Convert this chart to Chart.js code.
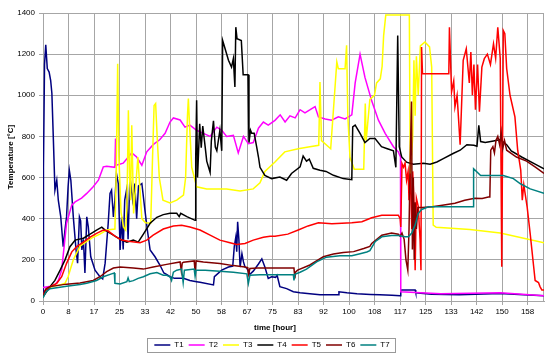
<!DOCTYPE html>
<html>
<head>
<meta charset="utf-8">
<script src="https://cdn.jsdelivr.net/npm/chart.js@4.4.1/dist/chart.umd.min.js"></script>
<style>
  html, body { margin: 0; padding: 0; background: #fff; }
  #wrap { position: relative; width: 550px; height: 359px; }
</style>
</head>
<body>
<div id="wrap"><canvas id="tempChart" width="550" height="359"></canvas></div>
<script>
// Temperature logs T1..T7 over time (hours)

const seriesNames = ['T1', 'T2', 'T3', 'T4', 'T5', 'T6', 'T7'];
const seriesColors = ['#000080', '#ff00ff', '#ffff00', '#000000', '#ff0000', '#800000', '#008080'];
const xTickLabels = ['0', '8', '17', '25', '33', '42', '50', '58', '67', '75',
                     '83', '92', '100', '108', '117', '125', '133', '142', '150', '158'];
const X_STEP = 25 / 3;   // one tick every 8.33 h
const X_MAX = 163.7;
const Y_MAX = 1400;
const Y_STEP = 200;

const t1Time = [0, 0.15, 0.5, 0.9, 1.4, 2, 2.5, 2.9, 3.4, 3.9,
  4.5, 5, 5.8, 6.6, 7.3, 7.7, 8.2, 8.6, 9.1, 9.9,
  10.8, 11.3, 11.9, 12.3, 12.7, 13.2, 13.7, 14.3, 14.8, 15.6,
  17, 18.6, 19.5, 20.3, 21.3, 21.9, 22.4, 23, 23.5, 24,
  24.6, 25.2, 25.7, 26.2, 26.7, 27.3, 27.8, 28.4, 29.3, 30,
  30.6, 31.2, 32.3, 33.3, 34.1, 35, 36.6, 38.2, 39.5, 40.5,
  41.5, 43, 45.9, 48, 50.2, 51.3, 55.7, 56, 58.4, 60.6,
  62, 62.5, 63, 63.3, 63.6, 64, 64.4, 65, 65.5, 66,
  66.6, 67.6, 68.7, 70.4, 71.5, 72.5, 73.6, 74.7, 76, 76.5,
  77.4, 79.6, 81.8, 84, 87.2, 90.5, 96.5, 96.7, 99.3, 102.6,
  107, 110, 114, 116.7, 116.9, 121.6, 121.8, 127, 136, 149.4,
  157, 163.7];
const t1Temp = [30, 650, 1150, 1246, 1130, 1113, 1073, 1010, 780, 539,
  587, 490, 409, 264, 360, 410, 555, 636, 587, 409,
  248, 184, 409, 390, 248, 300, 136, 409, 360, 215,
  150, 118, 108, 184, 377, 523, 539, 409, 490, 620,
  571, 248, 409, 250, 490, 539, 300, 603, 490, 571,
  400, 560, 571, 442, 345, 248, 215, 175, 136, 128,
  118, 110, 110, 100, 94, 91, 78, 118, 150, 165,
  170, 264, 310, 240, 385, 300, 165, 230, 190, 165,
  160, 130, 145, 180, 205, 165, 110, 118, 115, 125,
  70, 60, 45, 40, 35, 30, 30, 45, 40, 35,
  32, 30, 28, 25, 53, 53, 40, 33, 30, 37,
  30, 25];

const t2Time = [0, 2, 3.9, 5, 6.1, 7.7, 9.4, 10.5, 12.6, 14.3,
  16.4, 18.1, 19.7, 20.8, 23.5, 23.7, 23.9, 26.2, 27.9, 29,
  30.6, 32.3, 33.9, 36, 38.2, 39.9, 41.5, 42.6, 44.8, 46.4,
  48, 50.2, 52.4, 54.6, 56.8, 58.4, 60, 62.2, 63.8, 65.5,
  67.1, 68.7, 70.4, 72, 73.6, 75.8, 77.5, 79.1, 80.7, 82.4,
  84, 85.6, 87.3, 88.9, 90, 92.2, 94.3, 96.5, 98.7, 100.9,
  102, 103.6, 105.2, 107.4, 109.6, 111.8, 114.5, 116.1, 116.8, 116.9,
  130, 149.4, 163.7];
const t2Temp = [65, 70, 78, 100, 150, 378, 466, 482, 500, 523,
  555, 587, 652, 655, 650, 790, 660, 670, 700, 720,
  700, 660, 725, 760, 785, 815, 870, 890, 880, 845,
  855, 830, 815, 800, 845, 830, 800, 805, 720, 800,
  765, 770, 840, 870, 855, 878, 905, 870, 900, 890,
  930, 915, 930, 945, 895, 885, 879, 895, 885, 905,
  1060, 1200, 1087, 973, 879, 815, 750, 725, 700, 45,
  35, 40, 25];

const t3Time = [0, 1, 3, 6, 7.2, 8.2, 9.9, 12.1, 14.3, 16.4,
  18.6, 20.8, 23.5, 23.9, 24.4, 24.8, 25.5, 26.3, 27, 27.4,
  27.9, 28.3, 28.6, 29, 29.6, 30.3, 31, 31.6, 32.3, 33.5,
  35.2, 35.8, 36.3, 36.8, 37.3, 38, 39.2, 41.5, 43.7, 45.9,
  46.6, 47.2, 47.5, 47.9, 48.6, 50.2, 53.5, 60, 64.4, 68.7,
  70.9, 72.5, 75.8, 79, 83.4, 86.7, 90.1, 90.5, 91, 94,
  95, 96, 96.5, 98.7, 99.2, 99.6, 100.3, 101.7, 104.8, 105.3,
  105.6, 106.8, 108.3, 109, 110.2, 110.8, 111.3, 112, 119.7, 120,
  120.8, 121.2, 121.6, 122, 122.6, 123.3, 124.8, 126.3, 127, 127.5,
  128.5, 139.5, 149.4, 163.7];
const t3Temp = [20, 55, 70, 80, 86, 118, 200, 267, 290, 310,
  325, 345, 350, 600, 1153, 700, 430, 360, 345, 450,
  927, 600, 490, 854, 426, 560, 700, 560, 400, 380,
  378, 700, 950, 960, 800, 600, 490, 477, 490, 515,
  600, 900, 984, 850, 650, 555, 545, 545, 535, 545,
  575, 630, 676, 725, 740, 749, 757, 1065, 780, 740,
  950, 1162, 1129, 1129, 1243, 900, 700, 640, 640, 960,
  780, 980, 1000, 1060, 1080, 1140, 1290, 1390, 1390, 600,
  800, 1170, 900, 1190, 1000, 1240, 1259, 1235, 1137, 369,
  358, 348, 330, 283];

const t4Time = [0, 2.3, 3.9, 5.6, 7.2, 8.8, 10.5, 13.2, 15.4, 17.5,
  19.2, 20.3, 23, 25.2, 27.4, 29.5, 31.1, 32.8, 35, 37.2,
  39.3, 41.5, 43.7, 44.5, 45, 47, 49.7, 49.9, 50.2, 50.5,
  51.2, 51.7, 52.2, 53, 53.5, 54.6, 55, 55.7, 56.3, 56.8,
  57.8, 58.4, 58.7, 59.5, 60.6, 61.6, 62.2, 62.7, 63, 63.4,
  64.8, 65.4, 67, 67.3, 67.8, 68.2, 69, 69.8, 70.4, 70.9,
  72.5, 74.7, 77.4, 79.6, 81.2, 84, 85, 86.1, 87, 88.3,
  90.5, 92.5, 94.9, 98.1, 100.9, 101.2, 102, 103.6, 105.2, 106.8,
  108.5, 110.6, 112.5, 114.5, 115.3, 115.9, 116.4, 117.2, 118.8, 121,
  124.3, 126.5, 128.7, 130.8, 134, 136.3, 138.5, 140.8, 141.8, 142.4,
  143, 144.5, 147.2, 149.4, 151.5, 153, 156.4, 160.8, 163.7];
const t4Temp = [20, 70, 100, 150, 200, 264, 296, 305, 325, 345,
  359, 345, 320, 300, 286, 296, 286, 325, 378, 407,
  420, 426, 426, 410, 426, 410, 392, 700, 976, 600,
  862, 745, 850, 748, 680, 625, 777, 876, 748, 730,
  830, 730, 1266, 1226, 1170, 1137, 1178, 1040, 1331, 1275,
  1266, 1100, 1100, 770, 830, 815, 815, 750, 700, 650,
  611, 595, 603, 587, 620, 652, 705, 680, 690, 645,
  636, 630, 611, 595, 590, 846, 855, 815, 770, 790,
  790, 750, 740, 730, 650, 1291, 750, 700, 675, 665,
  670, 665, 676, 692, 717, 733, 760, 757, 752, 854,
  775, 770, 778, 785, 760, 730, 700, 665, 643];

const t5Time = [0, 0.6, 2.3, 4.5, 6.1, 7.7, 9.4, 11, 13.2, 15.4,
  17.5, 19.7, 21.3, 23.5, 25.7, 27.9, 31.7, 33.9, 36, 39.3,
  42.6, 45.3, 48, 51.3, 54.6, 57.8, 61.1, 63.3, 66, 68.7,
  72, 74.2, 75.8, 80, 83.4, 86.6, 90, 94.4, 100.9, 104.2,
  107.4, 110.7, 116.1, 116.7, 116.9, 117.3, 117.8, 118.3, 118.8, 119.3,
  119.6, 120, 120.5, 120.8, 121.2, 121.6, 122, 122.6, 123.2, 123.5,
  123.7, 124, 132.6, 132.8, 133.5, 134.2, 134.6, 135.3, 136.3, 137.3,
  138.3, 139.3, 139.8, 140.3, 140.8, 141.3, 142, 142.6, 143.4, 144.2,
  145.2, 146.2, 147.2, 147.9, 148.6, 149.4, 149.9, 150.4, 150.9, 151.5,
  152.6, 154.2, 155.1, 156.1, 156.6, 157.1, 158.2, 159.2, 160.3, 160.8,
  161.9, 162.4, 163, 163.7];
const t5Temp = [20, 50, 70, 86, 118, 183, 239, 264, 286, 310,
  329, 345, 340, 315, 296, 290, 283, 296, 320, 350,
  365, 368, 360, 345, 320, 296, 283, 275, 280, 296,
  310, 315, 315, 325, 345, 365, 380, 376, 380, 385,
  405, 417, 417, 400, 360, 668, 650, 670, 587, 630,
  490, 620, 350, 630, 480, 150, 500, 460, 300, 150,
  1235, 1105, 1105, 1331, 1017, 1070, 943, 1000, 760, 1170,
  1226, 1060, 1210, 1000, 1150, 930, 1150, 920, 1137, 1178,
  1200, 1150, 1250, 1180, 1331, 1180, 167, 1315, 1300, 1130,
  1000, 895, 733, 636, 490, 565, 456, 325, 170, 100,
  90, 70, 53, 53];

const t6Time = [0, 1, 2.3, 7.7, 12.1, 16.4, 18.6, 20.8, 23, 25.2,
  29.5, 32.8, 36, 40.4, 44.8, 45.2, 45.5, 45.9, 49.4, 49.7,
  50, 52.4, 57.8, 62.2, 66, 66.9, 67.2, 67.6, 70, 75,
  82, 82.3, 82.5, 83.2, 87.2, 91.6, 94.9, 98.1, 101.5, 104.8,
  106.8, 107.4, 110.7, 113.9, 116.1, 116.7, 117.3, 118, 118.6, 119.2,
  119.6, 120, 120.4, 120.7, 121, 121.3, 121.6, 122, 122.5, 124,
  127.2, 130.5, 134.6, 137.8, 141.1, 143.5, 145.5, 146, 146.3, 147,
  147.5, 148, 148.6, 149.2, 149.7, 150.2, 150.8, 151.5, 154.7, 158,
  161, 163.7];
const t6Temp = [20, 60, 70, 82, 87, 100, 118, 143, 160, 165,
  160, 155, 165, 178, 190, 145, 185, 188, 195, 145,
  195, 190, 182, 172, 165, 162, 130, 158, 160, 160,
  160, 110, 140, 150, 175, 215, 228, 236, 240, 255,
  265, 280, 320, 330, 325, 315, 330, 300, 200, 150,
  350, 700, 970, 250, 600, 200, 480, 350, 455, 455,
  458, 466, 475, 490, 500, 498, 505, 505, 733, 750,
  720, 780, 800, 760, 820, 740, 780, 733, 700, 680,
  650, 620];

const t7Time = [0, 1, 2.3, 7.7, 12.1, 14.3, 17.5, 19.7, 22.4, 23.3,
  23.5, 25.2, 27.4, 27.8, 28.2, 29.5, 31.1, 32.8, 35, 37.2,
  39.3, 40.4, 41.5, 42, 42.6, 43.7, 45.3, 45.8, 46.2, 49.4,
  49.7, 50, 53, 57.8, 62.2, 66.6, 67.1, 67.6, 70.9, 75,
  81.8, 82, 82.3, 84, 86.1, 89.4, 92.6, 97, 100.9, 103.6,
  105.8, 106.8, 108.5, 110.7, 113.9, 116.1, 118.3, 119.4, 120.5, 121.6,
  122.6, 123.7, 126, 131, 135.7, 140.6, 140.7, 143, 146.2, 150.4,
  153.7, 156, 159.2, 163.7];
const t7Temp = [15, 45, 60, 72, 80, 86, 100, 118, 132, 136,
  86, 83, 94, 112, 94, 99, 110, 118, 132, 138,
  125, 125, 118, 100, 140, 150, 155, 90, 150, 155,
  120, 150, 150, 145, 140, 132, 86, 125, 128, 128,
  128, 100, 130, 140, 155, 190, 213, 220, 220, 230,
  238, 245, 288, 312, 318, 318, 312, 312, 330, 370,
  425, 445, 458, 458, 458, 458, 643, 610, 610, 610,
  595, 570, 545, 523];

const seriesTimes = [t1Time, t2Time, t3Time, t4Time, t5Time, t6Time, t7Time];
const seriesTemps = [t1Temp, t2Temp, t3Temp, t4Temp, t5Temp, t6Temp, t7Temp];

const FONT = "'Liberation Sans', Arial, sans-serif";
const GRID = '#a6a6a6';

function toPoints(times, temps) {
    return times.map((t, i) => ({ x: t, y: temps[i] }));
}

// grey frame round the plot area (right edge has no axis)
const plotFrame = {
    id: 'plotFrame',
    beforeDatasetsDraw(chart) {
        const { ctx, chartArea: a } = chart;
        ctx.save();
        ctx.strokeStyle = GRID;
        ctx.lineWidth = 1;
        ctx.strokeRect(Math.round(a.left) + 0.5, Math.round(a.top) + 0.5,
                       Math.round(a.right) - Math.round(a.left) - 1, Math.round(a.bottom) - Math.round(a.top));
        ctx.restore();
    }
};

// x title is centred on the whole figure, not the plot area
const xTitle = {
    id: 'xTitle',
    afterDraw(chart) {
        const ctx = chart.ctx;
        ctx.save();
        ctx.font = 'bold 8px ' + FONT;
        ctx.fillStyle = '#000';
        ctx.textAlign = 'center';
        ctx.textBaseline = 'middle';
        ctx.fillText('time [hour]', 275, 328);
        ctx.restore();
    }
};

// box round the legend entries
const legendBox = {
    id: 'legendBox',
    afterDraw(chart) {
        const boxes = chart.legend && chart.legend.legendHitBoxes;
        if (!boxes || !boxes.length) return;
        const first = boxes[0], last = boxes[boxes.length - 1];
        const ctx = chart.ctx;
        ctx.save();
        ctx.strokeStyle = '#999';
        ctx.lineWidth = 1;
        const x0 = Math.round(first.left - 7) + 0.5;
        const x1 = Math.round(last.left + last.width + 5) + 0.5;
        const y0 = Math.round(first.top - 3) + 0.5;
        const y1 = Math.round(first.top + first.height + 3) + 0.5;
        ctx.strokeRect(x0, y0, x1 - x0, y1 - y0);
        ctx.restore();
    }
};

const datasets = seriesNames.map((name, i) => ({
    label: name,
    data: toPoints(seriesTimes[i], seriesTemps[i]),
    borderColor: seriesColors[i],
    backgroundColor: seriesColors[i],
    borderWidth: 1.5,
    pointRadius: 0,
    tension: 0,
    fill: false,
    order: seriesNames.length - i
}));

new Chart(document.getElementById('tempChart').getContext('2d'), {
    type: 'line',
    data: { datasets },
    options: {
        responsive: false,
        animation: false,
        devicePixelRatio: 1,
        layout: { padding: { top: 13, right: 6, left: 0, bottom: 0 } },
        plugins: {
            tooltip: { enabled: false },
            legend: {
                position: 'bottom',
                labels: {
                    usePointStyle: true,
                    pointStyle: 'line',
                    pointStyleWidth: 16,
                    padding: 5,
                    color: '#000',
                    font: { family: FONT, size: 8 },
                    sort: (a, b) => a.datasetIndex - b.datasetIndex
                }
            }
        },
        scales: {
            x: {
                type: 'linear',
                min: 0,
                max: X_MAX,
                afterBuildTicks: (scale) => {
                    scale.ticks = xTickLabels.map((lab, i) => ({ value: i * X_STEP }));
                },
                afterFit: (scale) => { scale.height = 35; },
                ticks: {
                    autoSkip: false,
                    maxRotation: 0,
                    padding: 2,
                    color: '#000',
                    font: { family: FONT, size: 8 },
                    callback: (v, i) => xTickLabels[i]
                },
                grid: { color: GRID, tickLength: 4 },
                border: { color: GRID }
            },
            y: {
                min: 0,
                max: Y_MAX,
                afterFit: (scale) => { scale.width = 43; },
                ticks: {
                    stepSize: Y_STEP,
                    padding: 4,
                    color: '#000',
                    font: { family: FONT, size: 8 },
                    callback: (v) => String(v)
                },
                grid: { color: GRID, tickLength: 4 },
                border: { color: GRID },
                title: {
                    display: true,
                    text: 'Temperature [°C]',
                    color: '#000',
                    font: { family: FONT, size: 8, weight: 'bold' },
                    padding: { top: 6, bottom: 0 }
                }
            }
        }
    },
    plugins: [plotFrame, xTitle, legendBox]
});
</script>
</body>
</html>
